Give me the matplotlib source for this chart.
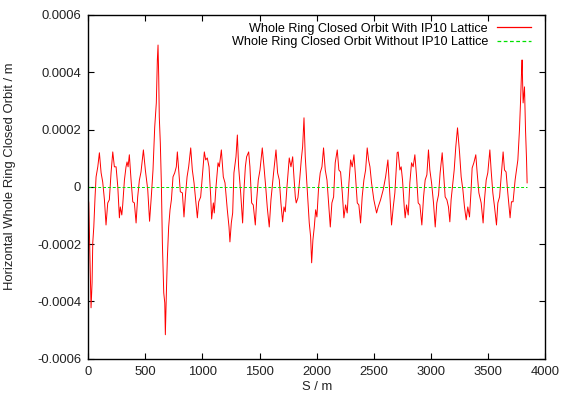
import matplotlib
matplotlib.use('Agg')
import matplotlib.pyplot as plt

plt.rcParams['font.family'] = ['Liberation Sans', 'DejaVu Sans']

# closed orbit with IP10 lattice (s in m, x in 1e-4 m)
s_with = [0, 6, 26, 35, 41, 50, 61, 70, 85, 99, 114, 128, 143, 157, 172, 186, 201, 216, 230, 245,
          260, 274, 282, 295, 303, 318, 332, 341, 350, 361, 376, 391, 405, 420, 434, 449, 463, 484, 501, 522,
          538, 553, 568, 583, 597, 606, 612, 618, 623, 632, 641, 650, 662, 671, 676, 685, 694, 705, 717, 729,
          743, 758, 772, 781, 793, 807, 825, 839, 851, 866, 880, 898, 912, 927, 941, 956, 968, 985, 999, 1017,
          1029, 1043, 1058, 1073, 1081, 1096, 1104, 1119, 1137, 1148, 1166, 1183, 1198, 1218, 1233, 1241, 1253, 1265, 1276, 1294,
          1306, 1317, 1335, 1352, 1364, 1376, 1387, 1405, 1416, 1431, 1445, 1463, 1475, 1489, 1504, 1524, 1539, 1556, 1568, 1585,
          1600, 1623, 1644, 1658, 1673, 1687, 1702, 1714, 1725, 1740, 1760, 1775, 1790, 1801, 1813, 1821, 1836, 1851, 1865, 1877,
          1889, 1900, 1912, 1923, 1935, 1947, 1956, 1967, 1979, 1991, 2002, 2017, 2031, 2046, 2060, 2075, 2090, 2104, 2119, 2133,
          2148, 2162, 2180, 2194, 2209, 2224, 2238, 2253, 2267, 2282, 2297, 2311, 2326, 2340, 2355, 2369, 2384, 2398, 2413, 2428,
          2442, 2454, 2466, 2480, 2500, 2524, 2538, 2559, 2582, 2603, 2623, 2638, 2646, 2655, 2670, 2684, 2704, 2713, 2728, 2739,
          2751, 2766, 2774, 2786, 2801, 2815, 2830, 2844, 2859, 2874, 2888, 2903, 2920, 2935, 2949, 2964, 2978, 2990, 3005, 3022,
          3037, 3051, 3066, 3080, 3098, 3110, 3124, 3139, 3153, 3165, 3176, 3188, 3203, 3217, 3232, 3250, 3264, 3279, 3293, 3308,
          3322, 3337, 3351, 3360, 3375, 3392, 3404, 3419, 3439, 3456, 3468, 3483, 3497, 3515, 3526, 3541, 3556, 3573, 3585, 3600,
          3614, 3631, 3643, 3657, 3672, 3692, 3704, 3718, 3736, 3748, 3760, 3774, 3783, 3792, 3797, 3806, 3818, 3827, 3836, 3841]
x_with = [-0.35, -0.56, -4.22, -3.35, -1.95, -1.40, -0.35, 0.35, 0.70, 1.19, 0.49, 0.17, -0.45, -1.33, -0.56, -0.45, 0.49, 1.22, 0.70, 0.70,
          0.00, -1.08, -0.70, -0.98, -0.63, 0.24, 0.70, 0.87, 0.70, 1.12, 0.24, -0.52, -0.56, -1.26, -0.35, 0.24, 0.52, 1.29, 0.59, -0.10,
          -1.20, -0.35, 0.59, 2.09, 2.93, 4.43, 4.95, 3.84, 2.44, 1.53, 0.14, -1.95, -3.70, -4.05, -5.16, -3.70, -2.44, -1.40, -0.80, -0.45,
          0.35, 0.49, 0.70, 1.22, 0.59, -0.17, -0.21, -1.05, -0.35, 0.35, 0.70, 1.36, 0.59, 0.14, -0.45, -1.08, -0.52, -0.35, 0.35, 1.22,
          0.94, 1.01, 0.70, -0.35, -1.12, -0.56, -0.91, 0.00, 0.84, 0.70, 1.29, 0.35, 0.14, -0.80, -1.40, -1.92, -1.26, -0.91, 0.49, 1.05,
          1.81, 0.70, -0.21, -1.26, -0.10, 0.70, 1.05, 1.22, 0.70, -0.56, -0.63, -1.33, -0.45, 0.24, 0.59, 1.36, 0.70, -0.10, -0.73, -1.40,
          -0.45, 0.49, 1.29, 0.49, 0.24, -0.56, -1.22, -0.70, -0.87, 0.00, 1.01, 0.70, 1.05, 0.35, -0.35, -0.56, -0.38, 0.24, 0.94, 1.40,
          2.41, 1.05, 0.24, -0.45, -1.26, -1.74, -2.65, -1.85, -1.40, -0.80, -1.05, 0.00, 0.49, 0.70, 1.36, 0.59, 0.24, -0.56, -1.40, -0.56,
          -0.35, 0.84, 1.29, 0.59, 0.52, -0.21, -1.08, -0.63, -0.91, 0.14, 0.94, 0.70, 1.12, 0.35, -0.56, -0.63, -1.26, -0.35, 0.24, 0.59,
          1.36, 0.94, 0.70, 0.14, -0.45, -0.91, -0.70, -0.45, -0.10, 0.35, 0.94, -0.10, -0.70, -1.33, -0.70, -0.21, 1.19, 1.22, 0.59, 0.70,
          0.24, -0.70, -1.08, -0.63, -0.98, 0.14, 0.84, 0.70, 1.12, 0.35, -0.56, -0.63, -1.33, -0.35, 0.24, 0.42, 1.29, 0.59, 0.14, -0.56,
          -1.40, -0.56, -0.28, 0.49, 1.19, 0.49, -0.35, -0.45, -0.70, -1.22, -0.45, 0.00, 0.59, 1.40, 2.06, 1.19, 0.35, -0.10, -0.70, -1.15,
          -0.70, -1.05, -0.10, 0.66, 0.84, 1.12, 0.49, -0.21, -0.56, -1.26, -0.45, 0.24, 0.49, 1.29, 0.59, -0.21, -0.70, -1.33, -0.56, -0.35,
          0.35, 1.22, 0.59, 0.52, -0.21, -1.08, -0.52, -0.52, 0.24, 0.59, 0.94, 1.99, 2.93, 3.98, 4.43, 2.93, 3.49, 1.99, 0.94, 0.14]

# closed orbit without IP10 lattice (flat)
s_without = [0, 3841]
x_without = [0.0, 0.0]

y_ticks = [-0.0006, -0.0004, -0.0002, 0, 0.0002, 0.0004, 0.0006]
y_tick_labels = ['-0.0006', '-0.0004', '-0.0002', '0', '0.0002', '0.0004', '0.0006']

red = '#ff0000'
green = '#00e000'
fs = 9.4

fig = plt.figure(figsize=(5.61, 3.93), dpi=100)
ax = fig.add_axes([0.157, 0.087, 0.815, 0.875])

ax.plot(s_with, [v * 1e-4 for v in x_with], color=red, lw=0.7,
        label='Whole Ring Closed Orbit With IP10 Lattice')
ax.plot(s_without, x_without, color=green, lw=0.7, dashes=(3, 2),
        label='Whole Ring Closed Orbit Without IP10 Lattice')

ax.set_xlim(0, 4000)
ax.set_ylim(-0.0006, 0.0006)
ax.set_xticks(range(0, 4001, 500))
ax.set_yticks(y_ticks)
ax.set_yticklabels(y_tick_labels)
ax.tick_params(direction='in', length=4, width=0.8, top=True, right=True,
               labelsize=fs, labelcolor='#222222', pad=5)
for sp in ax.spines.values():
    sp.set_linewidth(1.0)

ax.set_xlabel('S / m', fontsize=fs, color='#222222', labelpad=2)
ax.set_ylabel('Horizontal Whole Ring Closed Orbit / m', fontsize=fs, color='#222222')
ax.yaxis.set_label_coords(-0.157, 0.53)

leg = ax.legend(loc='upper right', bbox_to_anchor=(1.0, 1.0), frameon=False, markerfirst=False,
                fontsize=9.1, handlelength=2.7, handletextpad=0.7, labelspacing=0.12,
                borderaxespad=0.2, borderpad=0.4)
leg.set_bbox_to_anchor((0.985, 1.0), transform=ax.transAxes)
for h, c in zip(leg.legend_handles, [red, green]):
    h.set_color(c)
    h.set_linewidth(0.9)

fig.savefig('out.png', dpi=100)
